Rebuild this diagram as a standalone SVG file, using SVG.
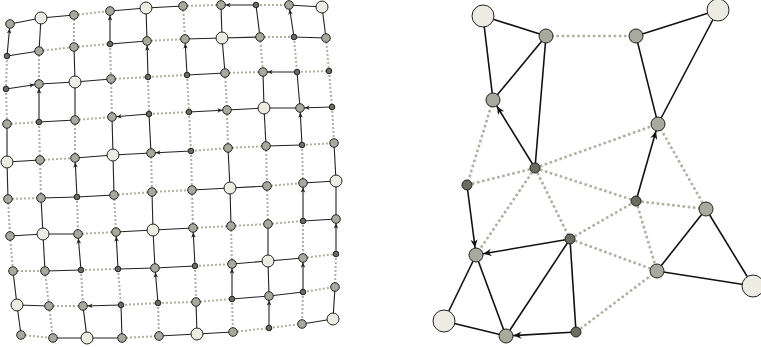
<svg xmlns="http://www.w3.org/2000/svg" width="761" height="347" viewBox="0 0 761 347">
<style>
.s{fill:#6c6c61;stroke:#222;stroke-width:1}
.g{fill:#a9a99e;stroke:#222;stroke-width:1}
.L{fill:#ecece2;stroke:#222;stroke-width:1}
.e{stroke:#222;stroke-width:1.1;fill:none}
.a{stroke:#222;stroke-width:1.1;fill:none;marker-end:url(#ma)}
.d{stroke:#b0b0a2;stroke-width:2;stroke-dasharray:2 2;fill:none}
.E{stroke:#111;stroke-width:1.6;fill:none}
.A{stroke:#111;stroke-width:1.6;fill:none;marker-end:url(#mb)}
.D{stroke:#b0b0a2;stroke-width:2.6;stroke-dasharray:2.6 2.6;fill:none}
</style>
<defs>
<marker id="ma" markerUnits="userSpaceOnUse" markerWidth="8" markerHeight="8" refX="4.6" refY="0" orient="auto" overflow="visible"><path d="M0,0 L-5,-2.3 L-3.6,0 L-5,2.3 Z" fill="#222"/></marker>
<marker id="mb" markerUnits="userSpaceOnUse" markerWidth="12" markerHeight="12" refX="7.5" refY="0" orient="auto" overflow="visible"><path d="M0,0 L-8,-3.6 L-5.6,0 L-8,3.6 Z" fill="#111"/></marker>
</defs>
<rect width="761" height="347" fill="#fff"/>
<g id="connectors">
<!-- grid dotted -->
<line class="d" x1="74" y1="15" x2="110" y2="11"/><line class="d" x1="183" y1="6" x2="221" y2="5"/><line class="d" x1="256" y1="5" x2="289" y2="5"/>
<line class="d" x1="39" y1="51" x2="74" y2="47"/><line class="d" x1="74" y1="47" x2="110" y2="44"/><line class="d" x1="147" y1="41" x2="185" y2="39"/><line class="d" x1="260" y1="37" x2="294" y2="37"/>
<line class="d" x1="111" y1="79" x2="148" y2="77"/><line class="d" x1="148" y1="77" x2="187" y2="75"/><line class="d" x1="225" y1="73" x2="263" y2="72"/><line class="d" x1="297" y1="72" x2="329" y2="71"/>
<line class="d" x1="7" y1="124" x2="39" y2="122"/><line class="d" x1="75" y1="120" x2="112" y2="117"/><line class="d" x1="149" y1="114" x2="189" y2="112"/>
<line class="d" x1="40" y1="160" x2="75" y2="158"/><line class="d" x1="191" y1="151" x2="228" y2="148"/><line class="d" x1="228" y1="148" x2="266" y2="146"/><line class="d" x1="302" y1="145" x2="334" y2="143"/>
<line class="d" x1="8" y1="199" x2="41" y2="198"/><line class="d" x1="114" y1="195" x2="152" y2="192"/><line class="d" x1="152" y1="192" x2="192" y2="190"/><line class="d" x1="267" y1="186" x2="303" y2="183"/>
<line class="d" x1="78" y1="234" x2="116" y2="232"/><line class="d" x1="193" y1="228" x2="231" y2="226"/><line class="d" x1="231" y1="226" x2="268" y2="224"/><line class="d" x1="268" y1="224" x2="303" y2="221"/>
<line class="d" x1="13" y1="271" x2="45" y2="271"/><line class="d" x1="81" y1="270" x2="118" y2="269"/><line class="d" x1="195" y1="266" x2="232" y2="264"/><line class="d" x1="303" y1="258" x2="336" y2="254"/>
<line class="d" x1="49" y1="306" x2="83" y2="306"/><line class="d" x1="121" y1="305" x2="158" y2="303"/><line class="d" x1="158" y1="303" x2="196" y2="302"/><line class="d" x1="196" y1="302" x2="232" y2="299"/><line class="d" x1="303" y1="292" x2="335" y2="287"/>
<line class="d" x1="21" y1="335" x2="53" y2="338"/><line class="d" x1="122" y1="338" x2="159" y2="336"/><line class="d" x1="233" y1="332" x2="269" y2="328"/><line class="d" x1="269" y1="328" x2="302" y2="324"/>
<line class="d" x1="74" y1="15" x2="74" y2="47"/><line class="d" x1="183" y1="6" x2="185" y2="39"/>
<line class="d" x1="7" y1="56" x2="6" y2="89"/><line class="d" x1="39" y1="51" x2="39" y2="84"/><line class="d" x1="110" y1="44" x2="111" y2="79"/><line class="d" x1="260" y1="37" x2="263" y2="72"/><line class="d" x1="294" y1="37" x2="297" y2="72"/><line class="d" x1="326" y1="38" x2="329" y2="71"/>
<line class="d" x1="6" y1="89" x2="7" y2="124"/><line class="d" x1="111" y1="79" x2="112" y2="117"/><line class="d" x1="148" y1="77" x2="149" y2="114"/><line class="d" x1="187" y1="75" x2="189" y2="112"/><line class="d" x1="225" y1="73" x2="227" y2="110"/><line class="d" x1="329" y1="71" x2="332" y2="107"/>
<line class="d" x1="39" y1="122" x2="40" y2="160"/><line class="d" x1="75" y1="120" x2="75" y2="158"/><line class="d" x1="189" y1="112" x2="191" y2="151"/><line class="d" x1="227" y1="110" x2="228" y2="148"/><line class="d" x1="332" y1="107" x2="334" y2="143"/>
<line class="d" x1="40" y1="160" x2="41" y2="198"/><line class="d" x1="151" y1="153" x2="152" y2="192"/><line class="d" x1="191" y1="151" x2="192" y2="190"/><line class="d" x1="266" y1="146" x2="267" y2="186"/><line class="d" x1="302" y1="145" x2="303" y2="183"/>
<line class="d" x1="8" y1="199" x2="10" y2="236"/><line class="d" x1="77" y1="197" x2="78" y2="234"/><line class="d" x1="114" y1="195" x2="116" y2="232"/><line class="d" x1="192" y1="190" x2="193" y2="228"/><line class="d" x1="267" y1="186" x2="268" y2="224"/>
<line class="d" x1="10" y1="236" x2="13" y2="271"/><line class="d" x1="231" y1="226" x2="232" y2="264"/><line class="d" x1="303" y1="221" x2="303" y2="258"/>
<line class="d" x1="45" y1="271" x2="49" y2="306"/><line class="d" x1="81" y1="270" x2="83" y2="306"/><line class="d" x1="118" y1="269" x2="121" y2="305"/><line class="d" x1="195" y1="266" x2="196" y2="302"/><line class="d" x1="336" y1="254" x2="335" y2="287"/>
<line class="d" x1="49" y1="306" x2="53" y2="338"/><line class="d" x1="158" y1="303" x2="159" y2="336"/><line class="d" x1="232" y1="299" x2="233" y2="332"/><line class="d" x1="303" y1="292" x2="302" y2="324"/>
<!-- grid solid -->
<line class="e" x1="10" y1="24" x2="41" y2="18"/><line class="e" x1="41" y1="18" x2="74" y2="15"/><line class="e" x1="110" y1="11" x2="146" y2="8"/><line class="e" x1="146" y1="8" x2="183" y2="6"/><line class="e" x1="289" y1="5" x2="322" y2="7"/>
<line class="e" x1="7" y1="56" x2="39" y2="51"/><line class="e" x1="110" y1="44" x2="147" y2="41"/><line class="e" x1="185" y1="39" x2="222" y2="38"/><line class="e" x1="222" y1="38" x2="260" y2="37"/><line class="e" x1="294" y1="37" x2="326" y2="38"/>
<line class="e" x1="39" y1="84" x2="75" y2="82"/><line class="e" x1="75" y1="82" x2="111" y2="79"/><line class="e" x1="187" y1="75" x2="225" y2="73"/>
<line class="e" x1="39" y1="122" x2="75" y2="120"/><line class="e" x1="227" y1="110" x2="264" y2="108"/><line class="e" x1="264" y1="108" x2="300" y2="108"/>
<line class="e" x1="7" y1="162" x2="40" y2="160"/><line class="e" x1="75" y1="158" x2="113" y2="155"/><line class="e" x1="113" y1="155" x2="151" y2="153"/><line class="e" x1="266" y1="146" x2="302" y2="145"/>
<line class="e" x1="41" y1="198" x2="77" y2="197"/><line class="e" x1="77" y1="197" x2="114" y2="195"/><line class="e" x1="192" y1="190" x2="230" y2="188"/><line class="e" x1="230" y1="188" x2="267" y2="186"/><line class="e" x1="303" y1="183" x2="336" y2="181"/>
<line class="e" x1="10" y1="236" x2="43" y2="234"/><line class="e" x1="43" y1="234" x2="78" y2="234"/><line class="e" x1="116" y1="232" x2="153" y2="230"/><line class="e" x1="153" y1="230" x2="193" y2="228"/><line class="e" x1="303" y1="221" x2="336" y2="219"/>
<line class="e" x1="45" y1="271" x2="81" y2="270"/><line class="e" x1="118" y1="269" x2="155" y2="268"/><line class="e" x1="155" y1="268" x2="195" y2="266"/><line class="e" x1="232" y1="264" x2="268" y2="261"/><line class="e" x1="268" y1="261" x2="303" y2="258"/>
<line class="e" x1="17" y1="305" x2="49" y2="306"/><line class="e" x1="232" y1="299" x2="269" y2="296"/><line class="e" x1="269" y1="296" x2="303" y2="292"/>
<line class="e" x1="53" y1="338" x2="87" y2="338"/><line class="e" x1="87" y1="338" x2="122" y2="338"/><line class="e" x1="159" y1="336" x2="197" y2="334"/><line class="e" x1="197" y1="334" x2="233" y2="332"/><line class="e" x1="302" y1="324" x2="333" y2="319"/>
<line class="e" x1="41" y1="18" x2="39" y2="51"/><line class="e" x1="146" y1="8" x2="147" y2="41"/><line class="e" x1="221" y1="5" x2="222" y2="38"/><line class="e" x1="256" y1="5" x2="260" y2="37"/><line class="e" x1="322" y1="7" x2="326" y2="38"/>
<line class="e" x1="74" y1="47" x2="75" y2="82"/><line class="e" x1="222" y1="38" x2="225" y2="73"/>
<line class="e" x1="75" y1="82" x2="75" y2="120"/><line class="e" x1="263" y1="72" x2="264" y2="108"/><line class="e" x1="297" y1="72" x2="300" y2="108"/>
<line class="e" x1="7" y1="124" x2="7" y2="162"/><line class="e" x1="112" y1="117" x2="113" y2="155"/><line class="e" x1="149" y1="114" x2="151" y2="153"/><line class="e" x1="264" y1="108" x2="266" y2="146"/>
<line class="e" x1="7" y1="162" x2="8" y2="199"/><line class="e" x1="113" y1="155" x2="114" y2="195"/><line class="e" x1="228" y1="148" x2="230" y2="188"/><line class="e" x1="334" y1="143" x2="336" y2="181"/>
<line class="e" x1="41" y1="198" x2="43" y2="234"/><line class="e" x1="152" y1="192" x2="153" y2="230"/><line class="e" x1="230" y1="188" x2="231" y2="226"/><line class="e" x1="336" y1="181" x2="336" y2="219"/>
<line class="e" x1="43" y1="234" x2="45" y2="271"/><line class="e" x1="153" y1="230" x2="155" y2="268"/><line class="e" x1="268" y1="224" x2="268" y2="261"/>
<line class="e" x1="13" y1="271" x2="17" y2="305"/><line class="e" x1="268" y1="261" x2="269" y2="296"/>
<line class="e" x1="17" y1="305" x2="21" y2="335"/><line class="e" x1="83" y1="306" x2="87" y2="338"/><line class="e" x1="121" y1="305" x2="122" y2="338"/><line class="e" x1="196" y1="302" x2="197" y2="334"/><line class="e" x1="335" y1="287" x2="333" y2="319"/>
<!-- grid arrows -->
<line class="a" x1="256" y1="5" x2="221" y2="5"/><line class="a" x1="6" y1="89" x2="39" y2="84"/><line class="a" x1="297" y1="72" x2="263" y2="72"/>
<line class="a" x1="149" y1="114" x2="112" y2="117"/><line class="a" x1="189" y1="112" x2="227" y2="110"/><line class="a" x1="332" y1="107" x2="300" y2="108"/>
<line class="a" x1="191" y1="151" x2="151" y2="153"/><line class="a" x1="121" y1="305" x2="83" y2="306"/>
<line class="a" x1="7" y1="56" x2="10" y2="24"/><line class="a" x1="110" y1="44" x2="110" y2="11"/><line class="a" x1="294" y1="37" x2="289" y2="5"/>
<line class="a" x1="148" y1="77" x2="147" y2="41"/><line class="a" x1="187" y1="75" x2="185" y2="39"/><line class="a" x1="39" y1="122" x2="39" y2="84"/>
<line class="a" x1="302" y1="145" x2="300" y2="108"/><line class="a" x1="77" y1="197" x2="75" y2="158"/><line class="a" x1="303" y1="221" x2="303" y2="183"/>
<line class="a" x1="81" y1="270" x2="78" y2="234"/><line class="a" x1="118" y1="269" x2="116" y2="232"/><line class="a" x1="195" y1="266" x2="193" y2="228"/><line class="a" x1="336" y1="254" x2="336" y2="219"/>
<line class="a" x1="158" y1="303" x2="155" y2="268"/><line class="a" x1="232" y1="299" x2="232" y2="264"/><line class="a" x1="303" y1="292" x2="303" y2="258"/><line class="a" x1="269" y1="328" x2="269" y2="296"/>
<!-- right graph dotted -->
<line class="D" x1="546" y1="36" x2="636" y2="36"/><line class="D" x1="493" y1="100" x2="467" y2="185"/><line class="D" x1="535" y1="168" x2="467" y2="185"/>
<line class="D" x1="535" y1="168" x2="658" y2="124"/><line class="D" x1="535" y1="168" x2="636" y2="201"/><line class="D" x1="535" y1="168" x2="476" y2="255"/>
<line class="D" x1="535" y1="168" x2="570" y2="239"/><line class="D" x1="658" y1="124" x2="706" y2="209"/><line class="D" x1="636" y1="201" x2="706" y2="209"/>
<line class="D" x1="636" y1="201" x2="657" y2="271"/><line class="D" x1="570" y1="239" x2="636" y2="201"/><line class="D" x1="570" y1="239" x2="657" y2="271"/>
<line class="D" x1="576" y1="332" x2="657" y2="271"/>
<!-- right graph solid -->
<line class="E" x1="483" y1="16" x2="546" y2="36"/><line class="E" x1="483" y1="16" x2="493" y2="100"/><line class="E" x1="546" y1="36" x2="493" y2="100"/>
<line class="E" x1="546" y1="36" x2="535" y2="168"/><line class="E" x1="636" y1="36" x2="718" y2="10"/><line class="E" x1="636" y1="36" x2="658" y2="124"/>
<line class="E" x1="718" y1="10" x2="658" y2="124"/><line class="E" x1="476" y1="255" x2="444" y2="321"/><line class="E" x1="476" y1="255" x2="506" y2="336"/>
<line class="E" x1="444" y1="321" x2="506" y2="336"/><line class="E" x1="570" y1="239" x2="506" y2="336"/><line class="E" x1="570" y1="239" x2="576" y2="332"/>
<line class="E" x1="706" y1="209" x2="657" y2="271"/><line class="E" x1="706" y1="209" x2="753" y2="286"/><line class="E" x1="657" y1="271" x2="753" y2="286"/>
<line class="A" x1="535" y1="168" x2="493" y2="100"/><line class="A" x1="636" y1="201" x2="658" y2="124"/><line class="A" x1="467" y1="185" x2="476" y2="255"/>
<line class="A" x1="570" y1="239" x2="476" y2="255"/><line class="A" x1="576" y1="332" x2="506" y2="336"/>
</g>
<g id="grid-nodes">
<g id="n0-0"><circle class="g" cx="10" cy="24" r="4.3"/></g><g id="n0-1"><circle class="L" cx="41" cy="18" r="6"/></g><g id="n0-2"><circle class="g" cx="74" cy="15" r="4.3"/></g><g id="n0-3"><circle class="g" cx="110" cy="11" r="4.3"/></g><g id="n0-4"><circle class="L" cx="146" cy="8" r="6"/></g><g id="n0-5"><circle class="g" cx="183" cy="6" r="4.3"/></g><g id="n0-6"><circle class="g" cx="221" cy="5" r="4.3"/></g><g id="n0-7"><circle class="s" cx="256" cy="5" r="2.8"/></g><g id="n0-8"><circle class="g" cx="289" cy="5" r="4.3"/></g><g id="n0-9"><circle class="L" cx="322" cy="7" r="6"/></g>
<g id="n1-0"><circle class="s" cx="7" cy="56" r="2.8"/></g><g id="n1-1"><circle class="g" cx="39" cy="51" r="4.3"/></g><g id="n1-2"><circle class="g" cx="74" cy="47" r="4.3"/></g><g id="n1-3"><circle class="s" cx="110" cy="44" r="2.8"/></g><g id="n1-4"><circle class="g" cx="147" cy="41" r="4.3"/></g><g id="n1-5"><circle class="g" cx="185" cy="39" r="4.3"/></g><g id="n1-6"><circle class="L" cx="222" cy="38" r="6"/></g><g id="n1-7"><circle class="g" cx="260" cy="37" r="4.3"/></g><g id="n1-8"><circle class="s" cx="294" cy="37" r="2.8"/></g><g id="n1-9"><circle class="g" cx="326" cy="38" r="4.3"/></g>
<g id="n2-0"><circle class="s" cx="6" cy="89" r="2.8"/></g><g id="n2-1"><circle class="g" cx="39" cy="84" r="4.3"/></g><g id="n2-2"><circle class="L" cx="75" cy="82" r="6"/></g><g id="n2-3"><circle class="g" cx="111" cy="79" r="4.3"/></g><g id="n2-4"><circle class="s" cx="148" cy="77" r="2.8"/></g><g id="n2-5"><circle class="s" cx="187" cy="75" r="2.8"/></g><g id="n2-6"><circle class="g" cx="225" cy="73" r="4.3"/></g><g id="n2-7"><circle class="g" cx="263" cy="72" r="4.3"/></g><g id="n2-8"><circle class="s" cx="297" cy="72" r="2.8"/></g><g id="n2-9"><circle class="s" cx="329" cy="71" r="2.8"/></g>
<g id="n3-0"><circle class="g" cx="7" cy="124" r="4.3"/></g><g id="n3-1"><circle class="s" cx="39" cy="122" r="2.8"/></g><g id="n3-2"><circle class="g" cx="75" cy="120" r="4.3"/></g><g id="n3-3"><circle class="g" cx="112" cy="117" r="4.3"/></g><g id="n3-4"><circle class="s" cx="149" cy="114" r="2.8"/></g><g id="n3-5"><circle class="s" cx="189" cy="112" r="2.8"/></g><g id="n3-6"><circle class="g" cx="227" cy="110" r="4.3"/></g><g id="n3-7"><circle class="L" cx="264" cy="108" r="6"/></g><g id="n3-8"><circle class="g" cx="300" cy="108" r="4.3"/></g><g id="n3-9"><circle class="s" cx="332" cy="107" r="2.8"/></g>
<g id="n4-0"><circle class="L" cx="7" cy="162" r="6"/></g><g id="n4-1"><circle class="g" cx="40" cy="160" r="4.3"/></g><g id="n4-2"><circle class="g" cx="75" cy="158" r="4.3"/></g><g id="n4-3"><circle class="L" cx="113" cy="155" r="6"/></g><g id="n4-4"><circle class="g" cx="151" cy="153" r="4.3"/></g><g id="n4-5"><circle class="s" cx="191" cy="151" r="2.8"/></g><g id="n4-6"><circle class="g" cx="228" cy="148" r="4.3"/></g><g id="n4-7"><circle class="g" cx="266" cy="146" r="4.3"/></g><g id="n4-8"><circle class="s" cx="302" cy="145" r="2.8"/></g><g id="n4-9"><circle class="g" cx="334" cy="143" r="4.3"/></g>
<g id="n5-0"><circle class="g" cx="8" cy="199" r="4.3"/></g><g id="n5-1"><circle class="g" cx="41" cy="198" r="4.3"/></g><g id="n5-2"><circle class="s" cx="77" cy="197" r="2.8"/></g><g id="n5-3"><circle class="g" cx="114" cy="195" r="4.3"/></g><g id="n5-4"><circle class="g" cx="152" cy="192" r="4.3"/></g><g id="n5-5"><circle class="g" cx="192" cy="190" r="4.3"/></g><g id="n5-6"><circle class="L" cx="230" cy="188" r="6"/></g><g id="n5-7"><circle class="g" cx="267" cy="186" r="4.3"/></g><g id="n5-8"><circle class="g" cx="303" cy="183" r="4.3"/></g><g id="n5-9"><circle class="L" cx="336" cy="181" r="6"/></g>
<g id="n6-0"><circle class="g" cx="10" cy="236" r="4.3"/></g><g id="n6-1"><circle class="L" cx="43" cy="234" r="6"/></g><g id="n6-2"><circle class="g" cx="78" cy="234" r="4.3"/></g><g id="n6-3"><circle class="g" cx="116" cy="232" r="4.3"/></g><g id="n6-4"><circle class="L" cx="153" cy="230" r="6"/></g><g id="n6-5"><circle class="g" cx="193" cy="228" r="4.3"/></g><g id="n6-6"><circle class="g" cx="231" cy="226" r="4.3"/></g><g id="n6-7"><circle class="g" cx="268" cy="224" r="4.3"/></g><g id="n6-8"><circle class="s" cx="303" cy="221" r="2.8"/></g><g id="n6-9"><circle class="g" cx="336" cy="219" r="4.3"/></g>
<g id="n7-0"><circle class="g" cx="13" cy="271" r="4.3"/></g><g id="n7-1"><circle class="g" cx="45" cy="271" r="4.3"/></g><g id="n7-2"><circle class="s" cx="81" cy="270" r="2.8"/></g><g id="n7-3"><circle class="s" cx="118" cy="269" r="2.8"/></g><g id="n7-4"><circle class="g" cx="155" cy="268" r="4.3"/></g><g id="n7-5"><circle class="s" cx="195" cy="266" r="2.8"/></g><g id="n7-6"><circle class="g" cx="232" cy="264" r="4.3"/></g><g id="n7-7"><circle class="L" cx="268" cy="261" r="6"/></g><g id="n7-8"><circle class="g" cx="303" cy="258" r="4.3"/></g><g id="n7-9"><circle class="s" cx="336" cy="254" r="2.8"/></g>
<g id="n8-0"><circle class="L" cx="17" cy="305" r="6"/></g><g id="n8-1"><circle class="g" cx="49" cy="306" r="4.3"/></g><g id="n8-2"><circle class="g" cx="83" cy="306" r="4.3"/></g><g id="n8-3"><circle class="s" cx="121" cy="305" r="2.8"/></g><g id="n8-4"><circle class="s" cx="158" cy="303" r="2.8"/></g><g id="n8-5"><circle class="g" cx="196" cy="302" r="4.3"/></g><g id="n8-6"><circle class="s" cx="232" cy="299" r="2.8"/></g><g id="n8-7"><circle class="g" cx="269" cy="296" r="4.3"/></g><g id="n8-8"><circle class="s" cx="303" cy="292" r="2.8"/></g><g id="n8-9"><circle class="g" cx="335" cy="287" r="4.3"/></g>
<g id="n9-0"><circle class="g" cx="21" cy="335" r="4.3"/></g><g id="n9-1"><circle class="g" cx="53" cy="338" r="4.3"/></g><g id="n9-2"><circle class="L" cx="87" cy="338" r="6"/></g><g id="n9-3"><circle class="g" cx="122" cy="338" r="4.3"/></g><g id="n9-4"><circle class="g" cx="159" cy="336" r="4.3"/></g><g id="n9-5"><circle class="L" cx="197" cy="334" r="6"/></g><g id="n9-6"><circle class="g" cx="233" cy="332" r="4.3"/></g><g id="n9-7"><circle class="s" cx="269" cy="328" r="2.8"/></g><g id="n9-8"><circle class="g" cx="302" cy="324" r="4.3"/></g><g id="n9-9"><circle class="L" cx="333" cy="319" r="6"/></g>
</g>
<g id="graph-nodes">
<g id="A"><circle class="L" cx="483" cy="16" r="11"/></g>
<g id="B"><circle class="g" cx="546" cy="36" r="7"/></g>
<g id="C"><circle class="g" cx="493" cy="100" r="7"/></g>
<g id="D"><circle class="s" cx="535" cy="168" r="5"/></g>
<g id="E"><circle class="g" cx="636" cy="36" r="7"/></g>
<g id="F"><circle class="L" cx="718" cy="10" r="11"/></g>
<g id="G"><circle class="g" cx="658" cy="124" r="7"/></g>
<g id="H"><circle class="s" cx="467" cy="185" r="5"/></g>
<g id="I"><circle class="g" cx="476" cy="255" r="7"/></g>
<g id="J"><circle class="s" cx="570" cy="239" r="5"/></g>
<g id="K"><circle class="L" cx="444" cy="321" r="11"/></g>
<g id="Lnode"><circle class="g" cx="506" cy="336" r="7"/></g>
<g id="M"><circle class="s" cx="576" cy="332" r="5"/></g>
<g id="N"><circle class="s" cx="636" cy="201" r="5"/></g>
<g id="O"><circle class="g" cx="706" cy="209" r="7"/></g>
<g id="P"><circle class="g" cx="657" cy="271" r="7"/></g>
<g id="Q"><circle class="L" cx="753" cy="286" r="11"/></g>
</g>
</svg>
